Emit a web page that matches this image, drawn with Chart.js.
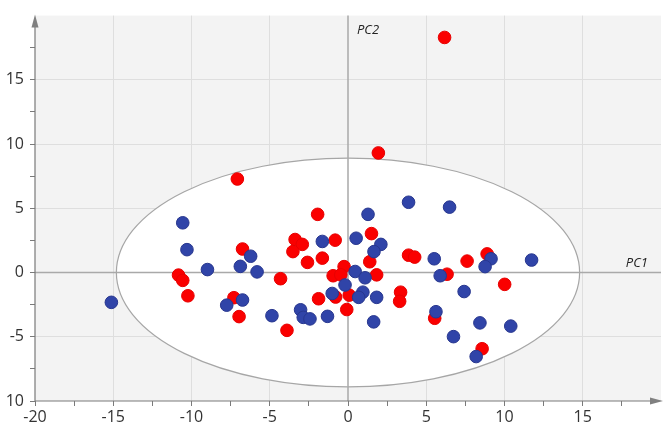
<!DOCTYPE html>
<html>
<head>
<meta charset="utf-8">
<script src="https://cdn.jsdelivr.net/npm/chart.js@4.4.1/dist/chart.umd.min.js"></script>
<style>
  html, body { margin: 0; padding: 0; background: #fff; }
  #wrap { width: 669px; height: 436px; }
</style>
</head>
<body>
<div id="wrap"><canvas id="chart"></canvas></div>
<script>
const redX = [6.17, 1.94, -7.07, -1.94, 1.5, -3.38, -2.92, -3.52, -0.82, -6.74, -2.59, -1.64, 1.39, 3.87, 4.26, 7.61, 8.89, 6.33, 10.01, -0.25, -0.95, -0.46, 1.83, -10.83, -10.56, -10.23, -4.31, -7.29, -6.96, -1.88, -0.79, 0.08, -0.08, 3.36, 3.30, -3.9, 5.54, 8.57];
const redY = [18.3, 9.31, 7.28, 4.53, 3.03, 2.57, 2.19, 1.63, 2.52, 1.83, 0.79, 1.12, 0.84, 1.35, 1.20, 0.89, 1.45, -0.13, -0.92, 0.46, -0.25, -0.18, -0.18, -0.2, -0.61, -1.81, -0.48, -1.96, -3.43, -2.04, -1.91, -1.76, -2.88, -1.53, -2.24, -4.5, -3.56, -5.93];

const blueX = [3.87, 6.49, -10.56, 1.28, 0.52, 2.10, 1.66, -1.64, -10.29, -6.22, -6.88, -8.98, -5.81, 5.51, 9.14, 8.76, 11.73, 5.89, 0.46, 1.09, -0.19, -1.01, 0.95, 0.68, 1.83, 1.64, -15.12, -7.75, -6.74, -4.86, -3.03, -2.86, -2.43, -1.31, 7.42, 5.62, 8.43, 10.40, 6.74, 8.19];
const blueY = [5.47, 5.09, 3.87, 4.53, 2.67, 2.19, 1.63, 2.42, 1.78, 1.27, 0.48, 0.23, 0.05, 1.07, 1.07, 0.46, 0.97, -0.25, 0.08, -0.41, -0.97, -1.63, -1.53, -1.93, -1.93, -3.84, -2.32, -2.54, -2.14, -3.36, -2.9, -3.49, -3.61, -3.41, -1.48, -3.05, -3.92, -4.17, -4.99, -6.54];

// tick labels as shown on the picture (the bottom one reads "10")
const xTickLabels = { '-20': '-20', '-15': '-15', '-10': '-10', '-5': '-5', '0': '0', '5': '5', '10': '10', '15': '15' };
const yTickLabels = { '-10': '10', '-5': '-5', '0': '0', '5': '5', '10': '10', '15': '15' };

// confidence ellipse radii
const ellipseRx = 14.8;
const ellipseRy = 8.9;

const toPoints = (xs, ys) => xs.map((x, i) => ({ x: x, y: ys[i] }));

const isMajor = v => Math.abs(v / 5 - Math.round(v / 5)) < 1e-6;

const backdrop = {
  id: 'backdrop',
  beforeDraw(chart) {
    const { ctx, chartArea: a } = chart;
    ctx.save();
    ctx.fillStyle = '#f3f3f3';
    ctx.fillRect(a.left, a.top, a.right - a.left, a.bottom - a.top);
    ctx.restore();
  },
  beforeDatasetsDraw(chart) {
    const { ctx, chartArea: a, scales: { x, y } } = chart;
    const cx = x.getPixelForValue(0);
    const cy = y.getPixelForValue(0);
    const rx = x.getPixelForValue(ellipseRx) - cx;
    const ry = cy - y.getPixelForValue(ellipseRy);
    ctx.save();
    ctx.beginPath();
    ctx.ellipse(cx, cy, rx, ry, 0, 0, Math.PI * 2);
    ctx.fillStyle = '#ffffff';
    ctx.fill();
    ctx.lineWidth = 1.2;
    ctx.strokeStyle = '#a6a6a6';
    ctx.stroke();

    // zero lines
    ctx.beginPath();
    ctx.lineWidth = 1.5;
    ctx.strokeStyle = '#a9a9a9';
    ctx.moveTo(cx, a.top);
    ctx.lineTo(cx, a.bottom);
    ctx.moveTo(a.left, cy);
    ctx.lineTo(a.right, cy);
    ctx.stroke();

    ctx.fillStyle = '#222';
    ctx.font = 'italic 13px "Open Sans", sans-serif';
    ctx.textBaseline = 'middle';
    ctx.textAlign = 'left';
    ctx.fillText('PC2', cx + 9, 30);
    ctx.textAlign = 'right';
    ctx.fillText('PC1', a.right - 13, cy - 9);
    ctx.restore();
  },
  afterDraw(chart) {
    const { ctx, chartArea: a } = chart;
    ctx.save();
    ctx.strokeStyle = '#7a7a7a';
    ctx.lineWidth = 1.2;
    ctx.beginPath();
    ctx.moveTo(a.left, a.bottom);
    ctx.lineTo(a.left, a.top + 8);
    ctx.moveTo(a.left, a.bottom);
    ctx.lineTo(a.right - 8, a.bottom);
    ctx.stroke();
    ctx.fillStyle = '#808080';
    ctx.beginPath();
    ctx.moveTo(a.left, a.top - 1);
    ctx.lineTo(a.left - 3.5, a.top + 12);
    ctx.lineTo(a.left + 3.5, a.top + 12);
    ctx.closePath();
    ctx.fill();
    ctx.beginPath();
    ctx.moveTo(a.right + 2, a.bottom);
    ctx.lineTo(a.right - 11, a.bottom - 3.5);
    ctx.lineTo(a.right - 11, a.bottom + 3.5);
    ctx.closePath();
    ctx.fill();
    ctx.restore();
  }
};

new Chart(document.getElementById('chart'), {
  type: 'scatter',
  data: {
    datasets: [
      {
        label: 'Group B',
        data: toPoints(blueX, blueY),
        backgroundColor: '#3044a8',
        borderColor: '#28378f',
        borderWidth: 1,
        pointRadius: 6.3,
        pointHoverRadius: 6.3,
      },
      {
        label: 'Group A',
        data: toPoints(redX, redY),
        backgroundColor: '#fa0000',
        borderColor: '#e80000',
        borderWidth: 1,
        pointRadius: 6.3,
        pointHoverRadius: 6.3,
      },
    ],
  },
  plugins: [backdrop],
  options: {
    responsive: true,
    maintainAspectRatio: false,
    animation: false,
    layout: { padding: { top: 9, right: 8, left: 0, bottom: 0 } },
    plugins: {
      legend: { display: false },
      tooltip: { enabled: false },
    },
    scales: {
      x: {
        type: 'linear',
        min: -20,
        max: 20,
        afterFit: s => { s.height = 35; },
        border: { display: false },
        grid: {
          color: c => (isMajor(c.tick.value) && c.tick.value !== 0 && c.tick.value !== -20 && c.tick.value !== 20) ? '#dedede' : 'rgba(0,0,0,0)',
          tickColor: c => (c.tick.value === 20) ? 'rgba(0,0,0,0)' : '#7a7a7a',
          tickLength: 5,
          lineWidth: 1,
        },
        ticks: {
          stepSize: 2.5,
          autoSkip: false,
          maxRotation: 0,
          padding: 2,
          color: '#333',
          font: { family: '"Open Sans", sans-serif', size: 16 },
          callback: v => xTickLabels[String(v)] || '',
        },
      },
      y: {
        type: 'linear',
        min: -10,
        max: 20,
        afterFit: s => { s.width = 35; },
        border: { display: false },
        grid: {
          color: c => (isMajor(c.tick.value) && c.tick.value !== 0 && c.tick.value !== -10 && c.tick.value !== 20) ? '#dedede' : 'rgba(0,0,0,0)',
          tickColor: c => (c.tick.value === 20) ? 'rgba(0,0,0,0)' : '#7a7a7a',
          tickLength: 5,
          lineWidth: 1,
        },
        ticks: {
          stepSize: 2.5,
          autoSkip: false,
          padding: 6,
          color: '#333',
          font: { family: '"Open Sans", sans-serif', size: 16 },
          callback: v => yTickLabels[String(v)] || '',
        },
      },
    },
  },
});
</script>
</body>
</html>
